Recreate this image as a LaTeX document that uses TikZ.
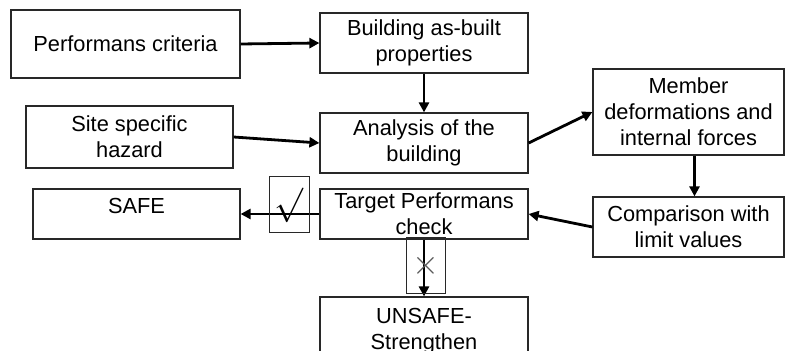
\documentclass[tikz,border=0pt]{standalone}
\usepackage{fontspec}
\setmainfont{Liberation Sans}
\usetikzlibrary{arrows.meta,positioning}
\definecolor{boxline}{RGB}{40,40,40}
\definecolor{markgray}{RGB}{90,90,90}
\tikzset{
  stagebox/.style={draw=boxline,line width=0.6pt,inner sep=0pt,
    align=center,font=\fontsize{10.9}{13}\selectfont},
  markbox/.style={draw=boxline,line width=0.5pt,inner sep=0pt},
  flowarrow/.style={-{Triangle[length=5pt,width=5pt]},line width=1.4pt},
}

\begin{document}
\begin{tikzpicture}[x=0.5pt,y=-0.5pt]
\useasboundingbox (0,0) rectangle (786,351);
% stages of the check
\node[stagebox,minimum width=114.5pt,minimum height=34pt]
  (criteria) at (125.5,44) {Performans criteria};
\node[stagebox,minimum width=104pt,minimum height=30pt]
  (props) at (424,43) {Building as-built\\properties};
\node[stagebox,minimum width=103.5pt,minimum height=31pt]
  (hazard) at (129.5,137) {Site specific\\hazard};
\node[stagebox,minimum width=104pt,minimum height=30pt]
  (analysis) at (424,143) {Analysis of the\\building};
\node[stagebox,minimum width=95.5pt,minimum height=43pt]
  (member) at (688.5,112) {Member\\deformations and\\internal forces};
\node[stagebox,minimum width=95.5pt,minimum height=30pt]
  (compare) at (688.5,227) {Comparison with\\limit values};
\node[stagebox,minimum width=104pt,minimum height=25pt]
  (target) at (424,214) {Target Performans\\check};
\node[stagebox,minimum width=103.5pt,minimum height=25pt,
      text height=8pt,text depth=8pt]
  (safe) at (136.5,214) {SAFE};
\node[stagebox,minimum width=104pt,minimum height=34pt]
  (unsafe) at (424,331) {UNSAFE-\\Strengthen};

% flow
\draw[flowarrow] (criteria.east) -- (props.west);
\draw[flowarrow] (props.south) -- (analysis.north);
\draw[flowarrow] (hazard.east) -- (analysis.west);
\draw[flowarrow] (analysis.east) -- (member.west);
\draw[flowarrow] ([xshift=3pt]member.south) -- ([xshift=3pt]compare.north);
\draw[flowarrow] (compare.west) -- (target.east);
\draw[flowarrow] (target.west) -- (safe.east);
\draw[flowarrow] (target.south) -- (unsafe.north);

% pass / fail marks
\node[markbox,minimum width=20pt,minimum height=28pt,
      font=\fontsize{19}{19}\selectfont]
  (pass) at (289,205) {$\surd$};
\node[markbox,minimum width=19.5pt,minimum height=28pt,
      font=\fontsize{17}{17}\selectfont,text=markgray]
  (fail) at (425.5,266) {$\times$};
\end{tikzpicture}
\end{document}
